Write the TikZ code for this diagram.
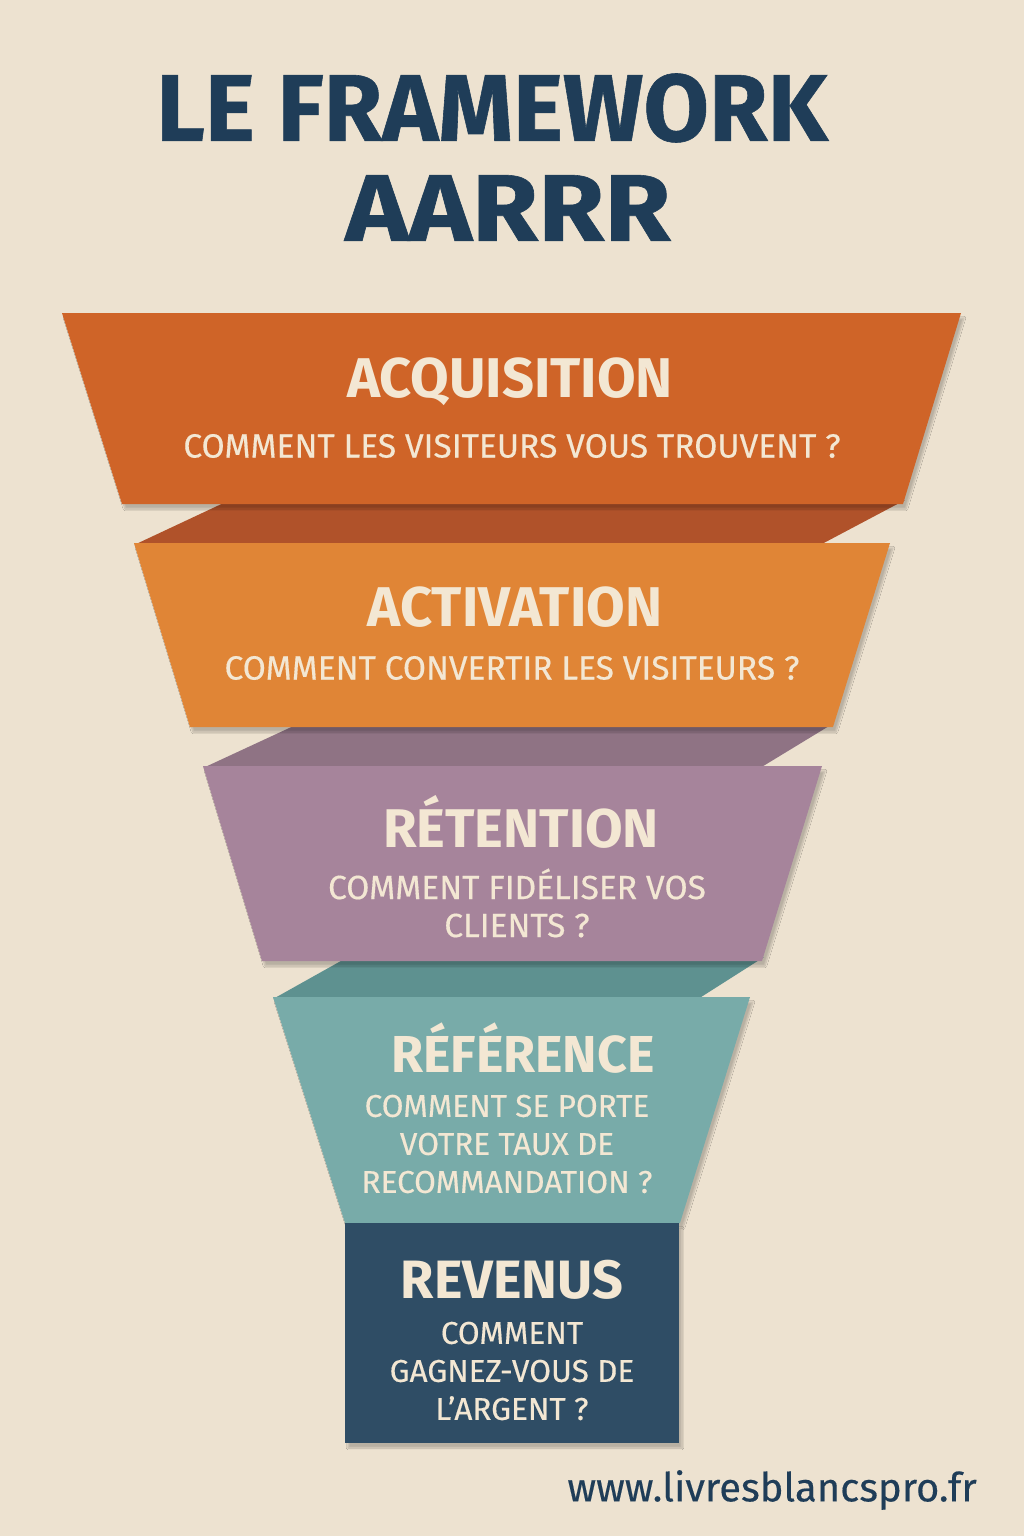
\documentclass[tikz,border=0pt]{standalone}
\usepackage{fontspec}
\usetikzlibrary{shadows.blur}
\newfontfamily\titlefont[FakeBold=0.6]{Fira Sans}
\newfontfamily\headfont{Fira Sans}
\newfontfamily\subfont[FakeBold=0.4]{Fira Sans}
\newfontfamily\urlfont[FakeBold=0.3]{Fira Sans}
\definecolor{bgc}{HTML}{EDE2D0}
\definecolor{tA}{HTML}{CF6428}
\definecolor{bA}{HTML}{B0522A}
\definecolor{tB}{HTML}{E08536}
\definecolor{bB}{HTML}{8F7384}
\definecolor{tC}{HTML}{A6849B}
\definecolor{bC}{HTML}{5E9190}
\definecolor{tD}{HTML}{78ABA9}
\definecolor{tE}{HTML}{2F4D65}
\definecolor{cream}{HTML}{F3E7D3}
\definecolor{navy}{HTML}{1F3D58}
\tikzset{
  piece/.style={blur shadow={shadow xshift=3pt,shadow yshift=-5pt,shadow blur steps=8,shadow opacity=22}},
  head/.style={text=cream,font=\headfont\bfseries\fontsize{56}{60}\selectfont,anchor=center,inner sep=0pt},
  sub/.style={text=cream,font=\subfont\fontsize{33.5}{38}\selectfont,anchor=center,inner sep=0pt,align=center},
  subs/.style={text=cream,font=\subfont\fontsize{31.5}{38}\selectfont,anchor=center,inner sep=0pt,align=center},
  ttl/.style={text=navy,font=\titlefont\bfseries\fontsize{95}{100}\selectfont,anchor=center,inner sep=0pt}
}
\begin{document}
\begin{tikzpicture}[x=1pt,y=-1pt]
\fill[bgc] (0,0) rectangle (1024,1536);
\useasboundingbox (0,0) rectangle (1024,1536);
% title
\node[ttl] (t1) at (492,108) {LE FRAMEWORK};
\node[ttl] (t2) at (508,208) {\scalebox{1.13}[1]{AARRR}};
% bands
\fill[bA] (230,500) -- (905,500) -- (820,545) -- (134,545) -- cycle;
\fill[bB] (300,723) -- (834,723) -- (760,768) -- (203,768) -- cycle;
\fill[bC] (348,957) -- (764,957) -- (698,999) -- (273,999) -- cycle;
% trapezoids
\fill[tA,piece] (62,313) -- (961,313) -- (903,504) -- (122,504) -- cycle;
\fill[tB,piece] (134,543) -- (890,543) -- (833,727) -- (190,727) -- cycle;
\fill[tC,piece] (203,766) -- (822,766) -- (762,961) -- (262,961) -- cycle;
\fill[tD,piece] (273,997) -- (750,997) -- (680,1223) -- (345,1223) -- cycle;
\fill[tE,piece] (345,1223) rectangle (679,1443);
% texts
\node[head] (h1) at (510,382) {ACQUISITION};
\node[sub]  (s1) at (512,446) {COMMENT LES VISITEURS VOUS TROUVENT ?};
\node[head] (h2) at (515,607) {ACTIVATION};
\node[sub]  (s2) at (512,668) {COMMENT CONVERTIR LES VISITEURS ?};
\node[head,font=\headfont\bfseries\fontsize{54.5}{60}\selectfont] (h3) at (521,822) {RÉTENTION};
\node[sub]  (s3) at (517,903) {COMMENT FIDÉLISER VOS\\CLIENTS ?};
\node[head,font=\headfont\bfseries\fontsize{52}{60}\selectfont] (h4) at (523,1048) {RÉFÉRENCE};
\node[subs] (s4) at (507,1144) {COMMENT SE PORTE\\VOTRE TAUX DE\\RECOMMANDATION ?};
\node[head,font=\headfont\bfseries\fontsize{54}{60}\selectfont] (h5) at (512,1280) {REVENUS};
\node[subs] (s5) at (512,1371) {COMMENT\\GAGNEZ-VOUS DE\\L’ARGENT ?};
\node[text=navy,font=\urlfont\fontsize{40}{42}\selectfont,anchor=east,inner sep=0pt] (url) at (977,1490) {www.livresblancspro.fr};
\end{tikzpicture}
\end{document}
